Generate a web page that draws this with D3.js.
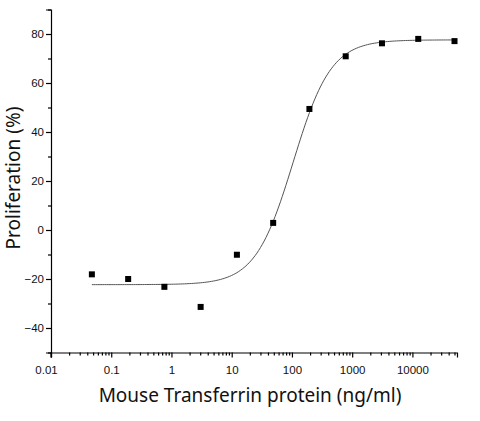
<!DOCTYPE html>
<html>
<head>
<meta charset="utf-8">
<script src="https://cdn.jsdelivr.net/npm/d3@7"></script>
<style>
  body { margin: 0; background: #fff; }
  .tick text { font-family: "Liberation Sans", Arial, sans-serif; font-size: 11.5px; fill: #111; }
  .title { font-family: "Noto Sans", "Open Sans", sans-serif; font-size: 19px; fill: #111; }
</style>
</head>
<body>
<svg id="chart" width="480" height="421"></svg>
<script>
// Proliferation vs concentration, 4-fold dilution series

var concentrations = [0.0477, 0.191, 0.763, 3.05, 12.2, 48.8, 195, 781, 3125, 12500, 50000];
var proliferation = [-18.1, -20.0, -23.2, -31.4, -10.1, 2.9, 49.4, 70.9, 76.2, 78.0, 77.1];

// 4PL fit: bottom, top, log10 EC50, hill slope
var fitParams = [-22.3, 77.6, 2.02, 1.38];

var xTickValues = [0.01, 0.1, 1, 10, 100, 1000, 10000];
var xTickLabels = ["0.01", "0.1", "1", "10", "100", "1000", "10000"];
var yTickValues = [-40, -20, 0, 20, 40, 60, 80];

var svg = d3.select("#chart");
var plotLeft = 51, plotRight = 457, plotTop = 9.5, plotBottom = 352.5;

var x = d3.scaleLog().domain([0.01, 55000]).range([plotLeft, plotRight]);
var y = d3.scaleLinear().domain([-50, 90]).range([plotBottom, plotTop]);

///////////////////////////////////////////////////////////////////////////////
// Axes

var minorX = [];
d3.range(-2, 5).forEach(function (e) {
  for (var m = 2; m <= 9; m++) {
    var v = m * Math.pow(10, e);
    if (v <= x.domain()[1]) minorX.push(v);
  }
});

svg.append("g")
  .attr("transform", "translate(0," + plotBottom + ")")
  .call(d3.axisBottom(x).tickValues(minorX).tickSize(3).tickFormat(""))
  .call(function (g) { g.select(".domain").remove(); });

var xAxis = svg.append("g")
  .attr("transform", "translate(0," + plotBottom + ")")
  .call(d3.axisBottom(x).tickValues(xTickValues).tickSizeOuter(0).tickSize(5).tickPadding(8)
    .tickFormat(function (d, i) { return xTickLabels[i]; }));

// first label sits a bit left of the corner
xAxis.select(".tick text").attr("dx", -5);

var minorY = d3.range(-50, 91, 10).filter(function (v) { return yTickValues.indexOf(v) < 0; });

svg.append("g")
  .attr("transform", "translate(" + plotLeft + ",0)")
  .call(d3.axisLeft(y).tickValues(minorY).tickSize(3).tickFormat(""))
  .call(function (g) { g.select(".domain").remove(); });

svg.append("g")
  .attr("transform", "translate(" + plotLeft + ",0)")
  .call(d3.axisLeft(y).tickValues(yTickValues).tickSizeOuter(0).tickSize(5).tickPadding(2));

svg.selectAll(".domain, .tick line").attr("stroke", "#000").attr("stroke-width", 1.2);

// y axis runs down a little past the x axis
svg.append("line")
  .attr("x1", plotLeft).attr("x2", plotLeft)
  .attr("y1", plotBottom).attr("y2", plotBottom + 5)
  .attr("stroke", "#000").attr("stroke-width", 1.2);

///////////////////////////////////////////////////////////////////////////////
// Fitted curve

var fit = function (c) {
  var b = fitParams[0], t = fitParams[1], ec = fitParams[2], h = fitParams[3];
  return b + (t - b) / (1 + Math.pow(10, (ec - Math.log10(c)) * h));
};

var lo = Math.log10(concentrations[0]), hi = Math.log10(concentrations[concentrations.length - 1]);
var curve = d3.range(0, 201).map(function (i) {
  var c = Math.pow(10, lo + (hi - lo) * i / 200);
  return [c, fit(c)];
});

svg.append("path")
  .datum(curve)
  .attr("fill", "none")
  .attr("stroke", "#555")
  .attr("stroke-width", 1)
  .attr("d", d3.line()
    .x(function (d) { return x(d[0]); })
    .y(function (d) { return y(d[1]); }));

///////////////////////////////////////////////////////////////////////////////
// Data points

var size = 6;
svg.append("g").selectAll("rect")
  .data(concentrations)
  .enter().append("rect")
  .attr("x", function (c) { return x(c) - size / 2; })
  .attr("y", function (c, i) { return y(proliferation[i]) - size / 2; })
  .attr("width", size)
  .attr("height", size)
  .attr("fill", "#000");

///////////////////////////////////////////////////////////////////////////////
// Titles

svg.append("text")
  .attr("class", "title")
  .attr("x", 250).attr("y", 401.5)
  .attr("text-anchor", "middle")
  .text("Mouse Transferrin protein (ng/ml)");

svg.append("text")
  .attr("class", "title")
  .attr("transform", "translate(20,178) rotate(-90)")
  .attr("text-anchor", "middle")
  .text("Proliferation (%)");
</script>
</body>
</html>
